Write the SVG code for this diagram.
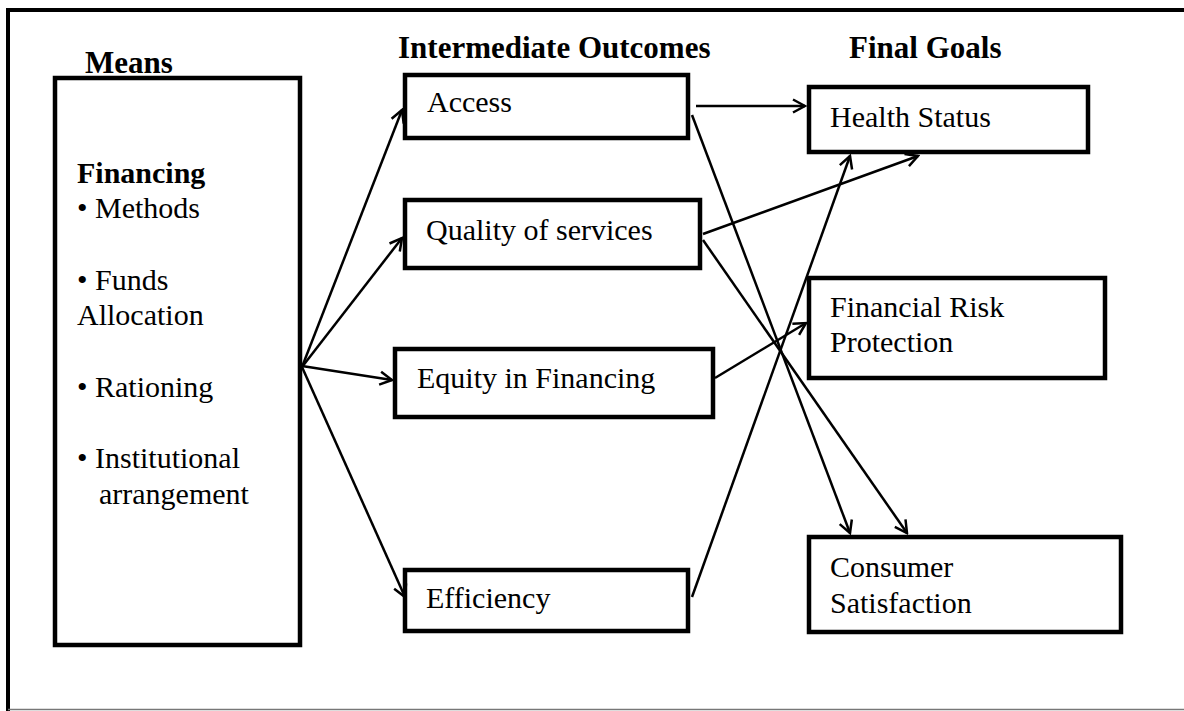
<svg xmlns="http://www.w3.org/2000/svg" width="1184" height="711" viewBox="0 0 1184 711">
  <style>
    .box { fill: #fff; stroke: #000; stroke-width: 4.5; }
    .txt { font-family: "Liberation Serif", "Times New Roman", serif; font-size: 30px; fill: #000; }
    .bold { font-weight: bold; }
    .head { font-size: 31px; }
    .conn { stroke: #000; stroke-width: 2.5; fill: none; marker-end: url(#arr); }
  </style>
  <defs>
    <marker id="arr" viewBox="-15 -9 17 18" refX="0" refY="0" markerWidth="17" markerHeight="18" markerUnits="userSpaceOnUse" orient="auto">
      <path d="M-12,-6.5 L0,0 L-12,6.5" fill="none" stroke="#000" stroke-width="2.5"/>
    </marker>
  </defs>

  <rect width="1184" height="711" fill="#fff"/>

  <!-- outer frame -->
  <path d="M8,711 V10 H1184" fill="none" stroke="#000" stroke-width="4"/>
  <line x1="8" y1="709.5" x2="1184" y2="709.5" stroke="#777" stroke-width="1.5"/>

  <!-- column headings -->
  <g id="headings">
    <text class="txt bold head" x="85" y="73">Means</text>
    <text class="txt bold head" x="398" y="58">Intermediate Outcomes</text>
    <text class="txt bold head" x="849" y="58">Final Goals</text>
  </g>

  <!-- means -->
  <g id="means">
    <rect class="box" x="55" y="78" width="245" height="567"/>
    <text class="txt bold" x="77" y="183">Financing</text>
    <text class="txt" x="77" y="218">• Methods</text>
    <text class="txt" x="77" y="290">• Funds</text>
    <text class="txt" x="77" y="325">Allocation</text>
    <text class="txt" x="77" y="397">• Rationing</text>
    <text class="txt" x="77" y="468">• Institutional</text>
    <text class="txt" x="99" y="504">arrangement</text>
  </g>

  <!-- intermediate outcomes -->
  <g id="access">
    <rect class="box" x="405" y="75" width="283" height="63"/>
    <text class="txt" x="427" y="112">Access</text>
  </g>
  <g id="quality">
    <rect class="box" x="405" y="200" width="295" height="68"/>
    <text class="txt" x="426" y="240">Quality of services</text>
  </g>
  <g id="equity">
    <rect class="box" x="395" y="349" width="318" height="68"/>
    <text class="txt" x="417" y="388">Equity in Financing</text>
  </g>
  <g id="efficiency">
    <rect class="box" x="405" y="570" width="283" height="61"/>
    <text class="txt" x="426" y="608">Efficiency</text>
  </g>

  <!-- final goals -->
  <g id="health">
    <rect class="box" x="809" y="87" width="279" height="65"/>
    <text class="txt" x="830" y="127">Health Status</text>
  </g>
  <g id="risk">
    <rect class="box" x="809" y="278" width="296" height="100"/>
    <text class="txt" x="830" y="317">Financial Risk</text>
    <text class="txt" x="830" y="352">Protection</text>
  </g>
  <g id="satisfaction">
    <rect class="box" x="809" y="537" width="312" height="95"/>
    <text class="txt" x="830" y="577">Consumer</text>
    <text class="txt" x="830" y="613">Satisfaction</text>
  </g>

  <!-- connectors -->
  <g id="connectors">
    <line class="conn" x1="302" y1="367" x2="402" y2="110"/>
    <line class="conn" x1="302" y1="367" x2="402" y2="238"/>
    <line class="conn" x1="302" y1="366" x2="392" y2="380"/>
    <line class="conn" x1="302" y1="367" x2="405" y2="597"/>
    <line class="conn" x1="696" y1="106" x2="805" y2="106"/>
    <line class="conn" x1="692" y1="115" x2="850" y2="533"/>
    <line class="conn" x1="703" y1="234" x2="918" y2="156"/>
    <line class="conn" x1="703" y1="240" x2="907" y2="533"/>
    <line class="conn" x1="715" y1="378" x2="806" y2="323"/>
    <line class="conn" x1="692" y1="597" x2="850" y2="156"/>
  </g>
</svg>
